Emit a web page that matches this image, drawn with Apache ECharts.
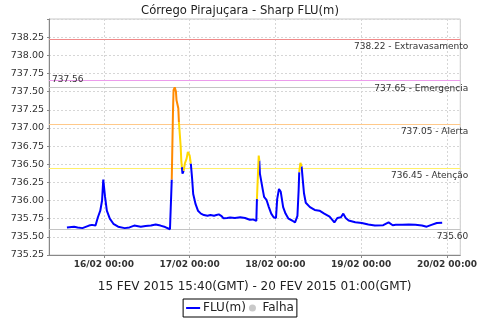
<!DOCTYPE html>
<html>
<head>
<meta charset="utf-8">
<script src="https://cdn.jsdelivr.net/npm/echarts@6/dist/echarts.min.js"></script>
<style>html,body{margin:0;padding:0;background:#fff}#c{width:480px;height:320px}</style>
</head>
<body>
<div id="c"></div>
<script>
const times = [
'2015-02-15 13:40','2015-02-15 15:40','2015-02-15 16:40','2015-02-15 18:00','2015-02-15 19:50','2015-02-15 20:40','2015-02-15 21:40','2015-02-15 22:20','2015-02-15 23:00','2015-02-15 23:30','2015-02-15 23:50',
'2015-02-16 00:20','2015-02-16 00:50','2015-02-16 01:40','2015-02-16 02:40','2015-02-16 04:00','2015-02-16 05:50','2015-02-16 07:10','2015-02-16 08:30','2015-02-16 10:20','2015-02-16 11:40','2015-02-16 13:10','2015-02-16 14:30','2015-02-16 15:50','2015-02-16 17:10','2015-02-16 18:30','2015-02-16 18:50','2015-02-16 19:00','2015-02-16 19:20','2015-02-16 19:30','2015-02-16 19:50','2015-02-16 20:10','2015-02-16 20:20','2015-02-16 20:50','2015-02-16 21:00','2015-02-16 21:10','2015-02-16 21:30','2015-02-16 21:40','2015-02-16 21:50','2015-02-16 22:00','2015-02-16 22:20','2015-02-16 22:40','2015-02-16 23:10','2015-02-16 23:30',
'2015-02-17 00:00','2015-02-17 00:20','2015-02-17 00:40','2015-02-17 01:00','2015-02-17 01:40','2015-02-17 02:20','2015-02-17 03:10','2015-02-17 04:00','2015-02-17 05:00','2015-02-17 05:50','2015-02-17 06:50','2015-02-17 07:30','2015-02-17 08:10','2015-02-17 08:50','2015-02-17 09:30','2015-02-17 10:00','2015-02-17 10:30','2015-02-17 11:20','2015-02-17 12:40','2015-02-17 14:10','2015-02-17 15:30','2015-02-17 16:50','2015-02-17 17:40','2015-02-17 18:10','2015-02-17 18:40','2015-02-17 18:50','2015-02-17 19:20','2015-02-17 19:30','2015-02-17 19:40','2015-02-17 20:30','2015-02-17 20:50','2015-02-17 21:30','2015-02-17 22:10','2015-02-17 22:50','2015-02-17 23:30',
'2015-02-18 00:10','2015-02-18 00:30','2015-02-18 01:00','2015-02-18 01:30','2015-02-18 02:10','2015-02-18 02:50','2015-02-18 03:40','2015-02-18 04:40','2015-02-18 05:30','2015-02-18 06:10','2015-02-18 06:30','2015-02-18 06:40','2015-02-18 07:00','2015-02-18 07:20','2015-02-18 07:40','2015-02-18 08:00','2015-02-18 08:30','2015-02-18 09:40','2015-02-18 11:00','2015-02-18 12:20','2015-02-18 13:40','2015-02-18 15:10','2015-02-18 16:30','2015-02-18 17:20','2015-02-18 18:20','2015-02-18 19:00','2015-02-18 19:40','2015-02-18 20:30','2015-02-18 22:20',
'2015-02-19 00:10','2015-02-19 02:00','2015-02-19 03:50','2015-02-19 06:10','2015-02-19 07:40','2015-02-19 08:50','2015-02-19 09:40','2015-02-19 11:30','2015-02-19 13:20','2015-02-19 15:10','2015-02-19 17:00','2015-02-19 18:20','2015-02-19 19:40','2015-02-19 21:10','2015-02-19 22:40'
];
const levels = [
735.63,735.64,735.63,735.62,735.655,735.665,735.655,735.77,735.86,736.00,736.29,
736.05,735.86,735.75,735.68,735.64,735.62,735.63,735.655,735.64,735.65,735.655,735.67,735.655,735.635,735.605,735.60,736.29,737.20,737.52,737.56,737.50,737.38,737.27,737.08,736.97,736.74,736.55,736.46,736.37,736.41,736.51,736.58,736.67,
736.62,736.51,736.32,736.09,735.95,735.86,735.82,735.80,735.79,735.80,735.79,735.80,735.81,735.79,735.755,735.74,735.76,735.765,735.76,735.77,735.76,735.735,735.74,735.725,735.72,736.02,736.62,736.55,736.37,736.14,736.05,736.01,735.91,735.82,735.77,
735.76,736.02,736.16,736.12,735.91,735.82,735.75,735.725,735.70,735.79,736.14,736.39,736.52,736.47,736.28,736.10,735.97,735.91,735.87,735.86,735.82,735.78,735.70,735.76,735.77,735.82,735.76,735.725,735.70,
735.69,735.67,735.655,735.66,735.70,735.66,735.665,735.665,735.67,735.665,735.655,735.64,735.665,735.69,735.695
];
const thresholdValues = [738.22, 737.65, 737.05, 736.45];
const thresholdNames = ['Extravasamento', 'Emergencia', 'Alerta', 'Atenção'];
const thresholdColors = ['#f08a8a', '#ec9cec', '#ffc98a', '#fff06a'];
const yTicks = [735.25, 735.50, 735.75, 736.00, 736.25, 736.50, 736.75, 737.00, 737.25, 737.50, 737.75, 738.00, 738.25];
const xRange = ['2015-02-15 08:39', '2015-02-20 03:44'];
const titleText = 'Córrego Pirajuçara - Sharp FLU(m)';
const xName = '15 FEV 2015 15:40(GMT) - 20 FEV 2015 01:00(GMT)';

function lvl(v) { return v > 737.05 ? 2 : (v > 736.45 ? 1 : 0); }
const segData = [0, 1, 2].map(k => {
  const arr = times.map(t => [t, null]);
  for (let i = 1; i < levels.length; i++) {
    if (lvl(levels[i]) === k) { arr[i - 1][1] = levels[i - 1]; arr[i][1] = levels[i]; }
  }
  return arr;
});
const maxV = Math.max(...levels), minV = Math.min(...levels);
const lblFont = { fontFamily: 'DejaVu Sans', fontSize: 9, color: '#333' };
const endLbl = { position: 'insideEndBottom', distance: [-8, 3] };
const mlData = thresholdValues.map((v, i) => ({
  yAxis: v, lineStyle: { color: thresholdColors[i] },
  label: Object.assign({ formatter: v.toFixed(2) + ' - ' + thresholdNames[i] }, endLbl, lblFont)
}));
mlData.push({ yAxis: maxV, lineStyle: { color: '#c4c4c4' }, label: Object.assign({ formatter: maxV.toFixed(2), position: 'insideStartTop', distance: [3, 3] }, lblFont) });
mlData.push({ yAxis: minV, lineStyle: { color: '#c4c4c4' }, label: Object.assign({ formatter: minV.toFixed(2) }, endLbl, lblFont) });

const lineIcon = 'path://M0,0L0.01,0L0.01,0.01Z M0,5L28,5L28,9L0,9Z M0,14L0.01,14L0.01,13.99Z';

const chart = echarts.init(document.getElementById('c'));
chart.setOption({
  animation: false,
  title: { text: titleText, left: 'center', top: 0, textStyle: { fontFamily: 'DejaVu Sans', fontSize: 11.6, fontWeight: 'normal', color: '#222' } },
  grid: { left: 49, right: 9, top: 19, height: 236, show: true, borderColor: '#c8c8c8', borderWidth: 1 },
  legend: {
    data: [{ name: 'FLU(m)', icon: lineIcon }, { name: 'Falha', icon: 'circle' }],
    left: 'center', top: 299, padding: [3, 3], itemGap: 3, itemWidth: 14, itemHeight: 7,
    borderColor: '#000', borderWidth: 1, textStyle: { fontFamily: 'DejaVu Sans', fontSize: 12, color: '#222', padding: [0, 0, 0, -2] }
  },
  xAxis: {
    type: 'time', min: xRange[0], max: xRange[1], minInterval: 86400000, maxInterval: 86400000,
    name: xName, nameLocation: 'middle', nameGap: 26,
    nameTextStyle: { fontFamily: 'DejaVu Sans', fontSize: 12, color: '#222' },
    axisLine: { lineStyle: { color: '#888' } },
    axisTick: { show: true, length: 3, lineStyle: { color: '#888' } },
    axisLabel: { formatter: '{dd}/{MM} {HH}:{mm}', fontFamily: 'DejaVu Sans', fontSize: 9, fontWeight: 'bold', color: '#333', margin: 5, hideOverlap: false },
    splitLine: { show: true, lineStyle: { color: '#d6d6d6', type: [2, 2] } }
  },
  yAxis: {
    type: 'value', min: yTicks[0], max: 738.5, interval: 0.25, scale: true,
    axisLine: { show: true, lineStyle: { color: '#888' } },
    axisTick: { show: true, length: 2, lineStyle: { color: '#888' } },
    axisLabel: { formatter: v => (yTicks.some(t => Math.abs(t - v) < 1e-6) ? v.toFixed(2) : ''), fontFamily: 'DejaVu Sans', fontSize: 9.5, color: '#333', margin: 5 },
    splitLine: { show: true, lineStyle: { color: '#d6d6d6', type: [2, 2] } }
  },
  series: [
    { name: 'FLU(m)', type: 'line', data: segData[0], symbol: 'none', connectNulls: false, color: '#0000ff', lineStyle: { width: 2, color: '#0000ff' }, z: 3,
      markLine: { silent: true, symbol: ['none', 'none'], animation: false, lineStyle: { type: 'solid', width: 1 }, data: mlData, z: 1 } },
    { name: 'yellowSeg', type: 'line', data: segData[1], symbol: 'none', connectNulls: false, lineStyle: { width: 2, color: '#ffd800' }, z: 4 },
    { name: 'orangeSeg', type: 'line', data: segData[2], symbol: 'none', connectNulls: false, lineStyle: { width: 2, color: '#ff8a00' }, z: 5 },
    { name: 'Falha', type: 'scatter', data: [], symbol: 'circle', color: '#bbbbbb', itemStyle: { color: '#bbbbbb' } }
  ]
});
</script>
</body>
</html>
